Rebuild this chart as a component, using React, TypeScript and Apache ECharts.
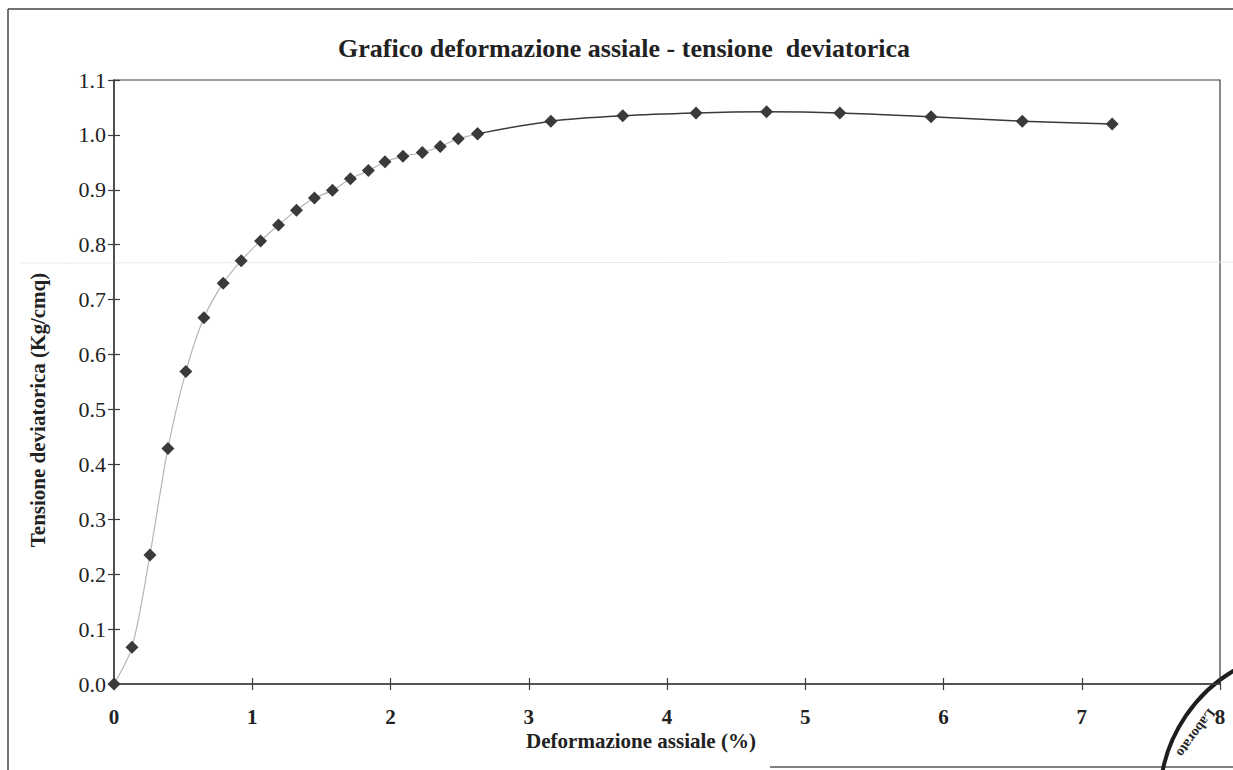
import React, { useEffect, useRef } from "react";
import * as echarts from "echarts";

const strainEarly = [0, 0.13, 0.26, 0.39, 0.52, 0.65, 0.79, 0.92, 1.06, 1.19, 1.32, 1.45, 1.58, 1.71, 1.84, 1.96, 2.09, 2.23, 2.36, 2.49, 2.63];
const stressEarly = [0, 0.067, 0.235, 0.429, 0.569, 0.667, 0.73, 0.771, 0.807, 0.836, 0.863, 0.885, 0.899, 0.92, 0.935, 0.951, 0.961, 0.968, 0.979, 0.993, 1.002];
const strainLate = [2.63, 3.16, 3.68, 4.21, 4.72, 5.25, 5.91, 6.57, 7.22];
const stressLate = [1.002, 1.025, 1.035, 1.04, 1.042, 1.04, 1.033, 1.025, 1.02];

const xTicks = [0, 1, 2, 3, 4, 5, 6, 7, 8];
const yTicks = [0, 0.1, 0.2, 0.3, 0.4, 0.5, 0.6, 0.7, 0.8, 0.9, 1.0, 1.1];

const titleText = "Grafico deformazione assiale - tensione  deviatorica";
const xName = "Deformazione assiale (%)";
const yName = "Tensione deviatorica (Kg/cmq)";

const SERIF = "'Liberation Serif', 'DejaVu Serif', serif";

export default function App() {
  const ref = useRef<HTMLDivElement>(null);
  useEffect(() => {
    if (!ref.current) return;
    const chart = echarts.init(ref.current, null, { renderer: "svg" });
    const early = strainEarly.map((x, i) => [x, stressEarly[i]]);
    const late = strainLate.map((x, i) => [x, stressLate[i]]);
    const axisColor = "#3c3c3c";
    const xBase = {
      type: "value",
      min: xTicks[0],
      max: xTicks[xTicks.length - 1],
      interval: 1,
      splitLine: { show: false },
    };
    const yBase = {
      type: "value",
      min: yTicks[0],
      max: yTicks[yTicks.length - 1],
      interval: 0.1,
      splitLine: { show: false },
    };
    chart.setOption({
      animation: false,
      backgroundColor: "#ffffff",
      title: {
        text: titleText,
        left: 619,
        textAlign: "center",
        top: 30,
        textStyle: { fontFamily: SERIF, fontSize: 26, fontWeight: "bold", color: "#222" },
      },
      grid: {
        left: 114,
        right: 13,
        top: 80,
        bottom: 86,
        show: true,
        borderColor: axisColor,
        borderWidth: 1.2,
      },
      xAxis: [
        {
          ...xBase,
          axisLine: { show: true, lineStyle: { color: axisColor, width: 1.5 } },
          axisTick: { show: true, length: 6, lineStyle: { color: axisColor, width: 1.2 } },
          axisLabel: {
            fontFamily: SERIF,
            fontSize: 21,
            fontWeight: "bold",
            color: "#222",
            margin: 22,
          },
        },
        {
          ...xBase,
          position: "bottom",
          axisLine: { show: false },
          axisTick: { show: true, inside: true, length: 6, lineStyle: { color: axisColor, width: 1.2 } },
          axisLabel: { show: false },
        },
      ],
      yAxis: [
        {
          ...yBase,
          axisLine: { show: true, lineStyle: { color: axisColor, width: 1.5 } },
          axisTick: { show: true, length: 6, lineStyle: { color: axisColor, width: 1.2 } },
          axisLabel: {
            fontFamily: SERIF,
            fontSize: 22,
            color: "#222",
            margin: 8,
            formatter: (v: number) => v.toFixed(1),
          },
        },
        {
          ...yBase,
          position: "left",
          axisLine: { show: false },
          axisTick: { show: true, inside: true, length: 6, lineStyle: { color: axisColor, width: 1.2 } },
          axisLabel: { show: false },
        },
      ],
      graphic: [
        { type: "line", shape: { x1: 8, y1: 9, x2: 1233, y2: 9 }, style: { stroke: "#444", lineWidth: 1.5 } },
        { type: "line", shape: { x1: 8, y1: 9, x2: 8, y2: 770 }, style: { stroke: "#444", lineWidth: 1.5 } },
        { type: "line", shape: { x1: 770, y1: 767, x2: 1233, y2: 767 }, style: { stroke: "#555", lineWidth: 1.5 } },
        { type: "line", shape: { x1: 20, y1: 263, x2: 1233, y2: 262 }, style: { stroke: "#e8e8e8", lineWidth: 1 } },
        {
          type: "text",
          x: 641,
          y: 741,
          style: { text: xName, fontFamily: SERIF, fontSize: 21, fontWeight: "bold", fill: "#222", align: "center", verticalAlign: "middle" },
        },
        {
          type: "text",
          x: 38,
          y: 410,
          rotation: Math.PI / 2,
          style: { text: yName, fontFamily: SERIF, fontSize: 21, fontWeight: "bold", fill: "#222", align: "center", verticalAlign: "middle" },
        },
        {
          type: "arc",
          shape: { cx: 1310, cy: 800, r: 150, startAngle: Math.PI * 0.98, endAngle: Math.PI * 1.4, clockwise: true },
          style: { stroke: "#1e1e1e", lineWidth: 4, fill: "none" },
        },
        {
          type: "text",
          x: 1196,
          y: 733,
          rotation: -2.2,
          style: { text: "Laborato", fontFamily: SERIF, fontSize: 14, fontWeight: "bold", fill: "#222", align: "center", verticalAlign: "middle" },
        },
      ],
      series: [
        {
          type: "line",
          data: early,
          smooth: 0.3,
          symbol: "diamond",
          symbolSize: 13,
          itemStyle: { color: "#3a3a3a" },
          lineStyle: { color: "#b5b5b5", width: 1.2 },
          z: 3,
        },
        {
          type: "line",
          data: late,
          smooth: 0.3,
          symbol: "diamond",
          symbolSize: 13,
          itemStyle: { color: "#3a3a3a" },
          lineStyle: { color: "#3a3a3a", width: 1.5 },
          z: 3,
        },
      ],
    });
    return () => chart.dispose();
  }, []);
  return <div ref={ref} style={{ position: "fixed", left: 0, top: 0, width: 1233, height: 770 }} />;
}
